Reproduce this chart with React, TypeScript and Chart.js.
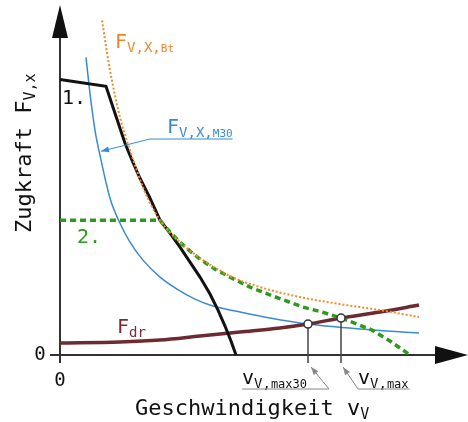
import React, { useEffect, useRef } from "react";
import { Chart, registerables } from "chart.js";
Chart.register(...registerables);

// Speed (arbitrary units) and traction force values
const V_BT = [42, 50, 60, 70, 85, 100, 120, 140, 170, 200, 240, 280, 320, 359];
const F_BT = [335, 285, 238, 205, 163, 135, 113, 97, 79, 68, 58, 51, 45, 38];

const V_M30 = [26, 30, 35, 40, 50, 60, 70, 83, 100, 117, 135, 153, 180, 210, 248, 300, 359];
const F_M30 = [298, 262, 225, 200, 157, 132, 113, 95, 78, 66, 56, 49, 43, 37, 31, 26, 22];

const V_1 = [0, 46, 65, 72, 80, 90, 100, 110, 120, 130, 140, 150, 158, 165, 171, 176];
const F_1 = [276, 269, 212, 195, 177, 157, 135, 122, 108, 93, 78, 61, 45, 29, 14, 0];

const V_2 = [0, 100, 110, 120, 130, 140, 155, 170, 190, 213, 243, 262, 281, 297, 312, 330, 350];
const F_2 = [135, 135, 123, 113, 104, 96, 86, 78, 68, 59, 48, 43, 37, 31, 25, 14, 0];

const V_DR = [0, 60, 100, 140, 180, 220, 248, 281, 320, 359];
const F_DR = [12, 13, 15, 19, 23, 27, 31, 37, 43, 50];

const V_MAX = [248, 281];
const F_MAX = [31, 37];

const FONT = "'DejaVu Sans Mono', monospace";

const pts = (xs: number[], ys: number[]) => xs.map((x, i) => ({ x, y: ys[i] }));

type Part = [string, number, number]; // text, size, dy
function drawParts(ctx: CanvasRenderingContext2D, x: number, y: number, parts: Part[], color: string) {
  ctx.fillStyle = color;
  ctx.textAlign = "left";
  ctx.textBaseline = "alphabetic";
  let cx = x;
  for (const [t, s, dy] of parts) {
    ctx.font = `${s}px ${FONT}`;
    ctx.fillText(t, cx, y + dy);
    cx += ctx.measureText(t).width;
  }
  return cx;
}

function arrowHead(ctx: CanvasRenderingContext2D, x1: number, y1: number, x2: number, y2: number, len: number, w: number) {
  const a = Math.atan2(y2 - y1, x2 - x1);
  ctx.beginPath();
  ctx.moveTo(x2, y2);
  ctx.lineTo(x2 - len * Math.cos(a) + w * Math.sin(a), y2 - len * Math.sin(a) - w * Math.cos(a));
  ctx.lineTo(x2 - len * Math.cos(a) - w * Math.sin(a), y2 - len * Math.sin(a) + w * Math.cos(a));
  ctx.closePath();
  ctx.fill();
}

const decor = {
  id: "decor",
  beforeDatasetsDraw(chart: any) {
    const ctx = chart.ctx as CanvasRenderingContext2D;
    const xs = chart.scales.x, ys = chart.scales.y;
    const x0 = xs.getPixelForValue(0), y0 = ys.getPixelForValue(0);
    ctx.save();
    ctx.strokeStyle = "#333";
    ctx.fillStyle = "#111";
    ctx.lineWidth = 2;
    ctx.beginPath();
    ctx.moveTo(x0, y0 + 8);
    ctx.lineTo(x0, 30);
    ctx.moveTo(x0 - 10, y0);
    ctx.lineTo(438, y0);
    ctx.stroke();
    ctx.beginPath();
    ctx.moveTo(x0, 5); ctx.lineTo(x0 - 8, 38); ctx.lineTo(x0 + 8, 38); ctx.closePath(); ctx.fill();
    ctx.beginPath();
    ctx.moveTo(468, y0); ctx.lineTo(435, y0 - 9); ctx.lineTo(435, y0 + 9); ctx.closePath(); ctx.fill();
    ctx.restore();
  },
  afterDatasetsDraw(chart: any) {
    const ctx = chart.ctx as CanvasRenderingContext2D;
    const xs = chart.scales.x, ys = chart.scales.y;
    const X = (v: number) => xs.getPixelForValue(v);
    const Y = (f: number) => ys.getPixelForValue(f);
    const x0 = X(0), y0 = Y(0);
    ctx.save();
    ctx.font = `19px ${FONT}`;
    ctx.fillStyle = "#111";
    ctx.textAlign = "center";
    ctx.textBaseline = "middle";
    ctx.fillText("0", x0 - 20, y0);
    ctx.fillText("0", x0, y0 + 26);

    drawParts(ctx, 135, 415, [["Geschwindigkeit v", 22, 0], ["V", 15, 4]], "#111");
    ctx.save();
    ctx.translate(31, 233);
    ctx.rotate(-Math.PI / 2);
    drawParts(ctx, 0, 0, [["Zugkraft F", 22, 0], ["V,x", 15, 4]], "#111");
    ctx.restore();

    drawParts(ctx, 115, 48, [["F", 20, 0], ["V,X,", 14, 4], ["Bt", 11, 4]], "#f0842a");
    const endM = drawParts(ctx, 167, 133, [["F", 20, 0], ["V,X,", 14, 4], ["M30", 11, 4]], "#3a8ad0");
    drawParts(ctx, 62, 104, [["1.", 20, 0]], "#111");
    drawParts(ctx, 77, 243, [["2.", 20, 0]], "#2c9a1c");
    drawParts(ctx, 117, 333, [["F", 20, 0], ["dr", 14, 4]], "#7a2a35");

    ctx.strokeStyle = "#3a8ad0";
    ctx.fillStyle = "#3a8ad0";
    ctx.lineWidth = 1;
    ctx.beginPath();
    ctx.moveTo(endM, 139);
    ctx.lineTo(150, 139);
    ctx.lineTo(X(40) + 1, Y(204));
    ctx.stroke();
    arrowHead(ctx, 150, 139, X(40) + 1, Y(204), 8, 3);

    const vx1 = X(V_MAX[0]), vx2 = X(V_MAX[1]);
    ctx.lineWidth = 1;
    drawParts(ctx, 242, 384, [["v", 20, 0], ["V,", 14, 4], ["max30", 12, 4]], "#111");
    ctx.strokeStyle = "#888";
    ctx.fillStyle = "#888";
    ctx.beginPath();
    ctx.moveTo(242, 389); ctx.lineTo(vx1 + 21, 389); ctx.lineTo(vx1 + 3, y0 + 12);
    ctx.stroke();
    arrowHead(ctx, vx1 + 21, 389, vx1 + 3, y0 + 12, 8, 3);
    const e2 = drawParts(ctx, 358, 384, [["v", 20, 0], ["V,", 14, 4], ["max", 12, 4]], "#111");
    ctx.strokeStyle = "#888";
    ctx.fillStyle = "#888";
    ctx.beginPath();
    ctx.moveTo(e2 + 1, 389); ctx.lineTo(vx2 + 17, 389); ctx.lineTo(vx2 + 2, y0 + 12);
    ctx.stroke();
    arrowHead(ctx, vx2 + 17, 389, vx2 + 2, y0 + 12, 8, 3);
    ctx.restore();
  },
};

export default function App() {
  const ref = useRef<HTMLCanvasElement>(null);
  useEffect(() => {
    document.body.style.margin = "0";
    const common = { pointRadius: 0, showLine: true, fill: false, clip: false as any };
    const chart = new Chart(ref.current!, {
      type: "scatter",
      data: {
        datasets: [
          { data: pts(V_MAX, F_MAX), showLine: false, pointRadius: 4, pointBackgroundColor: "#fff", pointBorderColor: "#333", pointBorderWidth: 1.5, clip: false as any },
          { ...common, data: [{ x: V_MAX[0], y: F_MAX[0] }, { x: V_MAX[0], y: -8 }], borderColor: "#444", borderWidth: 1.5 },
          { ...common, data: [{ x: V_MAX[1], y: F_MAX[1] }, { x: V_MAX[1], y: -8 }], borderColor: "#444", borderWidth: 1.5 },
          { ...common, data: pts(V_BT, F_BT), borderColor: "#f5892c", borderWidth: 2, borderDash: [2, 2], cubicInterpolationMode: "monotone" },
          { ...common, data: pts(V_2, F_2), borderColor: "#2c9a1c", borderWidth: 3.5, borderDash: [6, 4], tension: 0 },
          { ...common, data: pts(V_1, F_1), borderColor: "#111", borderWidth: 3, tension: 0 },
          { ...common, data: pts(V_DR, F_DR), borderColor: "#6e2a33", borderWidth: 3.5, cubicInterpolationMode: "monotone" },
          { ...common, data: pts(V_M30, F_M30), borderColor: "#3a8ad0", borderWidth: 1.5, cubicInterpolationMode: "monotone" },
        ] as any,
      },
      options: {
        animation: false,
        responsive: false,
        events: [],
        layout: { padding: { left: 60, right: 33, top: 5, bottom: 67 } },
        plugins: { legend: { display: false }, tooltip: { enabled: false } },
        scales: {
          x: { type: "linear", min: 0, max: 375, display: false },
          y: { type: "linear", min: 0, max: 350, display: false },
        },
      },
      plugins: [decor],
    });
    return () => chart.destroy();
  }, []);
  return <canvas ref={ref} width={468} height={422} style={{ display: "block" }} />;
}
